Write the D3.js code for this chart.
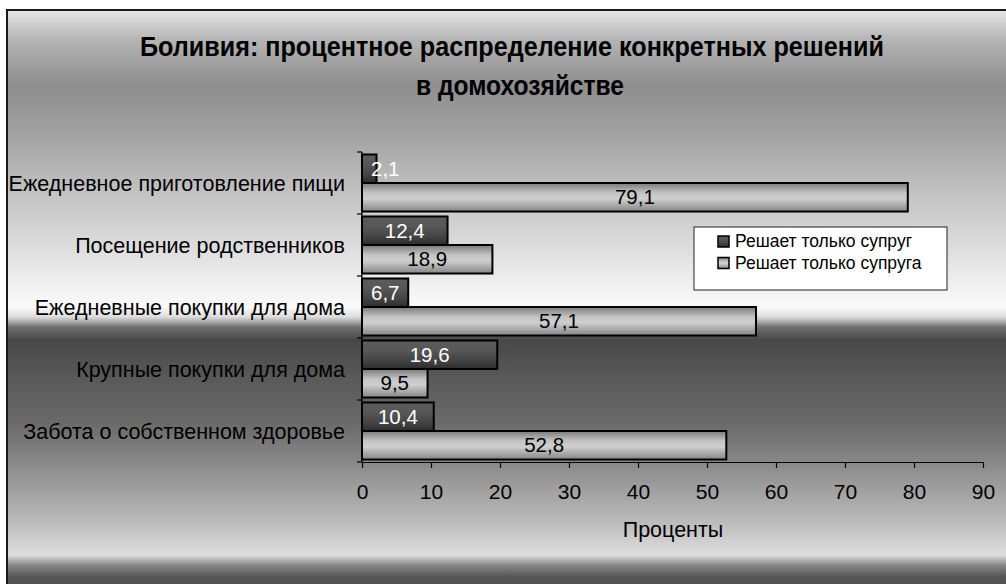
<!DOCTYPE html>
<html>
<head>
<meta charset="utf-8">
<script src="https://cdn.jsdelivr.net/npm/d3@7"></script>
<style>
  html, body { margin: 0; padding: 0; background: #fff; }
  svg { display: block; }
  text { font-family: "Liberation Sans", Arial, sans-serif; }
</style>
</head>
<body>
<svg id="chart" width="1006" height="584"></svg>
<script>
// ---- data ----
const categories = [
  "Ежедневное приготовление пищи",
  "Посещение родственников",
  "Ежедневные покупки для дома",
  "Крупные покупки для дома",
  "Забота о собственном здоровье"
];
const seriesNames = ["Решает только супруг", "Решает только супруга"];
const husbandValues = [2.1, 12.4, 6.7, 19.6, 10.4];
const wifeValues = [79.1, 18.9, 57.1, 9.5, 52.8];
const xTicks = [0, 10, 20, 30, 40, 50, 60, 70, 80, 90];
const titleLines = ["Боливия: процентное распределение конкретных решений", "в домохозяйстве"];
const xAxisTitle = "Проценты";

const rows = categories.map((c, i) => ({ cat: c, vals: [husbandValues[i], wifeValues[i]] }));

const svg = d3.select("#chart");
const defs = svg.append("defs");

// background gradient
const bgStops = [
  [10, "#e6e6e6"], [40, "#b4b4b4"], [85, "#8e8e8e"], [130, "#a0a0a0"],
  [200, "#c6c6c6"], [250, "#dedede"], [290, "#f2f2f2"], [307, "#fafafa"],
  [317, "#dcdcdc"], [327, "#707070"], [340, "#484848"], [380, "#5a5a5a"],
  [423, "#6a6a6a"], [462, "#888888"], [523, "#bcbcbc"], [555, "#dedede"],
  [565, "#888888"], [577, "#555555"], [600, "#4e4e4e"]
];
const bg = defs.append("linearGradient").attr("id", "bg")
  .attr("gradientUnits", "userSpaceOnUse").attr("x1", 0).attr("x2", 0).attr("y1", 10).attr("y2", 600);
bgStops.forEach(s => bg.append("stop").attr("offset", (s[0] - 10) / 590).attr("stop-color", s[1]));

const darkG = defs.append("linearGradient").attr("id", "darkBar").attr("x1", 0).attr("x2", 0).attr("y1", 0).attr("y2", 1);
[[0, "#5c5c5c"], [0.35, "#575757"], [0.7, "#444"], [1, "#2c2c2c"]].forEach(s => darkG.append("stop").attr("offset", s[0]).attr("stop-color", s[1]));
const lightG = defs.append("linearGradient").attr("id", "lightBar").attr("x1", 0).attr("x2", 0).attr("y1", 0).attr("y2", 1);
[[0, "#7a7a7a"], [0.35, "#c4c4c4"], [0.55, "#cfcfcf"], [1, "#858585"]].forEach(s => lightG.append("stop").attr("offset", s[0]).attr("stop-color", s[1]));
const fills = ["url(#darkBar)", "url(#lightBar)"];
const labelColors = ["#fff", "#000"];

// frame + background
svg.append("rect").attr("x", 7).attr("y", 10).attr("width", 1010).attr("height", 590)
  .attr("fill", "url(#bg)").attr("stroke", "#1a1a1a").attr("stroke-width", 2);

// title
const title = svg.append("text").attr("font-weight", "bold").attr("font-size", 28)
  .attr("font-family", "'Liberation Sans Narrow', 'Arial Narrow', 'Liberation Sans', Arial, sans-serif")
  .attr("text-anchor", "middle").attr("fill", "#000");
title.append("tspan").attr("x", 512).attr("y", 56).attr("textLength", 744).attr("lengthAdjust", "spacingAndGlyphs").text(titleLines[0]);
title.append("tspan").attr("x", 520).attr("y", 95).attr("textLength", 208).attr("lengthAdjust", "spacingAndGlyphs").text(titleLines[1]);

// scales
const x = d3.scaleLinear().domain([0, 90]).range([362, 983]);
const y0 = d3.scaleBand().domain(categories).range([152, 462]).paddingInner(0.08).paddingOuter(0.04);
const y1 = d3.scaleBand().domain([0, 1]).range([0, y0.bandwidth()]);

// bars
const g = svg.append("g");
const groups = g.selectAll("g.cat").data(rows).join("g").attr("class", "cat")
  .attr("transform", d => `translate(0,${y0(d.cat)})`);
groups.selectAll("rect").data(d => d.vals.map((v, j) => ({ v, j }))).join("rect")
  .attr("x", x(0)).attr("y", d => y1(d.j)).attr("width", d => x(d.v) - x(0)).attr("height", y1.bandwidth())
  .attr("fill", d => fills[d.j]).attr("stroke", "#000").attr("stroke-width", 2);

// data labels
const fmt = v => v.toFixed(1).replace(".", ",");
groups.selectAll("text").data(d => d.vals.map((v, j) => ({ v, j }))).join("text")
  .attr("font-size", 20.5).attr("fill", d => labelColors[d.j]).attr("text-anchor", "middle")
  .attr("y", d => y1(d.j) + y1.bandwidth() / 2 + 7)
  .text(d => fmt(d.v))
  .attr("x", function (d) {
    const w = this.getComputedTextLength();
    const c = (x(0) + x(d.v)) / 2;
    return Math.max(c, x(0) + w / 2 + 9);
  });

// x axis
const xAxis = d3.axisBottom(x).tickValues(xTicks).tickSize(6).tickSizeOuter(0).tickPadding(16).tickFormat(d3.format("d"));
const xg = svg.append("g").attr("transform", "translate(0,462)").call(xAxis);
xg.select(".domain").attr("stroke", "#000").attr("stroke-width", 1.2);
xg.selectAll(".tick line").attr("stroke", "#000").attr("stroke-width", 1.2);
xg.selectAll(".tick text").attr("font-size", 21).attr("font-family", "'Liberation Sans', Arial, sans-serif").attr("fill", "#000");

// y axis (category)
const yAxis = d3.axisLeft(y0).tickSize(0).tickPadding(17);
const yg = svg.append("g").attr("transform", "translate(362,0)").call(yAxis);
yg.select(".domain").attr("stroke", "#000").attr("stroke-width", 1.2).attr("d", "M0,152V462");
yg.selectAll(".tick text").attr("font-size", 21.5).attr("font-family", "'Liberation Sans', Arial, sans-serif").attr("fill", "#000").attr("dy", "0.35em");
// category boundary ticks
const bounds = categories.map(c => y0(c) - y0.step() * y0.paddingInner() / 2).concat([462]);
yg.selectAll("line.bound").data(bounds).join("line").attr("class", "bound")
  .attr("x1", -5).attr("x2", 0).attr("y1", d => d).attr("y2", d => d).attr("stroke", "#000").attr("stroke-width", 1.2);

// x axis title
svg.append("text").attr("x", 673).attr("y", 537).attr("text-anchor", "middle").attr("font-size", 21.5).text(xAxisTitle);

// legend
const lg = svg.append("g").attr("transform", "translate(694,227)");
lg.append("rect").attr("width", 253).attr("height", 63).attr("fill", "#fff").attr("stroke", "#222").attr("stroke-width", 1);
const li = lg.selectAll("g.item").data(seriesNames).join("g").attr("class", "item")
  .attr("transform", (d, i) => `translate(24,${9 + i * 21.5})`);
li.append("rect").attr("width", 11).attr("height", 11).attr("fill", (d, i) => fills[i]).attr("stroke", "#000").attr("stroke-width", 1.5);
li.append("text").attr("x", 17).attr("y", 11).attr("font-size", 17.5).text(d => d);
</script>
</body>
</html>
